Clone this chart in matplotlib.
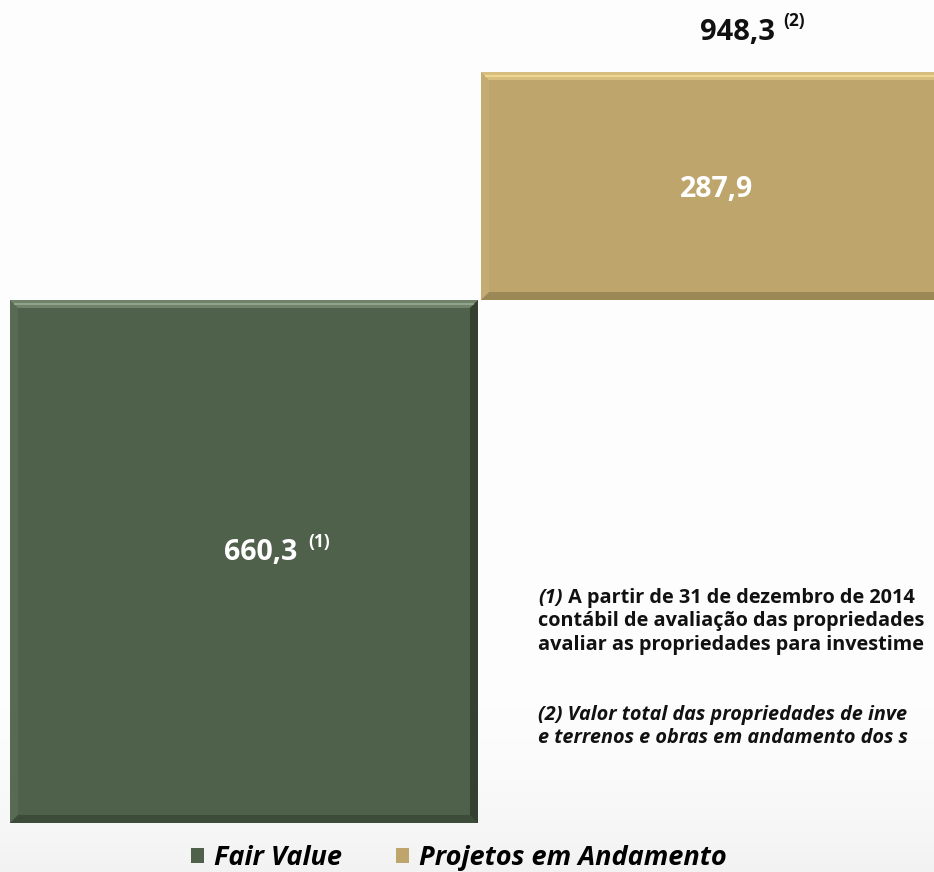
import matplotlib
matplotlib.use("Agg")
import matplotlib.pyplot as plt
import numpy as np
from matplotlib.patches import Patch, Polygon

# Values (R$ milhões)
categories = ["Fair Value", "Projetos em Andamento"]
values = [660.3, 287.9]
total = 948.3
value_labels = ["660,3", "287,9"]
value_notes = ["(1)", ""]
total_label = "948,3"
total_note = "(2)"
colors = ["#50614B", "#BEA56C"]
light = ["#9AAC93", "#F6DE98"]
dark = ["#1A2218", "#5E5030"]

# footnote lines: (italic part, upright part)
notes = [
    ("(1)", " A partir de 31 de dezembro de 2014"),
    ("", "contábil de avaliação das propriedades"),
    ("", "avaliar as propriedades para investime"),
    ("(2) Valor total das propriedades de inve", ""),
    ("e terrenos e obras em andamento dos s", ""),
]
note_y_px = [598, 621.5, 645, 715, 738.5]

plt.rcParams["font.family"] = ["Open Sans", "DejaVu Sans"]

W, H = 934, 872
fig = plt.figure(figsize=(W / 100, H / 100), dpi=100)
fig.patch.set_facecolor("#FDFDFD")
ax = fig.add_axes([0, 0, 1, 1])
ax.set_facecolor("#FDFDFD")

# faint grey shading toward the bottom of the slide
grad = np.linspace(0, 1, 200) ** 2
shade = np.repeat((0.995 - 0.045 * grad).reshape(200, 1, 1), 3, axis=2)
ax.imshow(shade, extent=(0, 1, 0, 0.25), transform=ax.transAxes,
          aspect="auto", origin="upper", zorder=0)
ax.set_xlim(-0.518, 1.465)
ax.set_ylim(-61.9, 1039.1)
ax.axis("off")

bottoms = [0, values[0]]
x = list(range(len(values)))
bars = ax.bar(x, values, bottom=bottoms, width=0.9936, color=colors,
              edgecolor="none", zorder=2)

# bevelled edges derived from each bar's rectangle
px_x = 1 / 471.0
px_y = 1 / 0.792
for i, b in enumerate(bars):
    x0, y0 = b.get_x(), b.get_y()
    x1, y1 = x0 + b.get_width(), y0 + b.get_height()
    dx, dy = 8 * px_x, 8 * px_y
    top = Polygon([(x0, y1), (x1, y1), (x1 - dx, y1 - dy), (x0 + dx, y1 - dy)],
                  closed=True, facecolor=light[i], alpha=0.45, edgecolor="none", zorder=3)
    right = Polygon([(x1, y1), (x1, y0), (x1 - dx, y0 + dy), (x1 - dx, y1 - dy)],
                    closed=True, facecolor=dark[i], alpha=0.5, edgecolor="none", zorder=3)
    bottom = Polygon([(x0, y0), (x1, y0), (x1 - dx, y0 + dy), (x0 + dx, y0 + dy)],
                     closed=True, facecolor=dark[i], alpha=0.35, edgecolor="none", zorder=3)
    left = Polygon([(x0, y0), (x0, y1), (x0 + dx, y1 - dy), (x0 + dx, y0 + dy)],
                   closed=True, facecolor=light[i], alpha=0.12, edgecolor="none", zorder=3)
    for p in (top, right, bottom, left):
        ax.add_patch(p)
    # thin highlight line inside the top bevel
    ax.plot([x0 + dx * 0.5, x1 - dx * 0.5], [y1 - dy * 0.45] * 2, color=light[i],
            lw=1.5, alpha=0.8, solid_capstyle="butt", zorder=3)

# value labels inside the bars
label_dx = [0.035, 0.004]
label_dy = [11, -4]
for i, b in enumerate(bars):
    cx = b.get_x() + b.get_width() / 2 + label_dx[i]
    cy = b.get_y() + b.get_height() / 2 + label_dy[i]
    t = ax.text(cx, cy, value_labels[i], color="white", fontsize=20.5,
                fontweight="bold", ha="center", va="center", zorder=4)
    if value_notes[i]:
        ax.annotate(value_notes[i], xy=(1, 1), xycoords=t, xytext=(8, 4),
                    textcoords="offset points", color="white", fontsize=12.5,
                    fontweight="bold", ha="left", va="top", zorder=4)

# total above the stacked column
tt = ax.text(x[1] + 0.047, total + 50, total_label, color="#111111", fontsize=21,
             fontweight="bold", ha="center", va="center")
ax.annotate(total_note, xy=(1, 1), xycoords=tt, xytext=(6, 4),
            textcoords="offset points", color="#111111", fontsize=12.5,
            fontweight="bold", ha="left", va="top")

# footnotes
xx = -0.518 + 538 * px_x
fs = 14.3
for (ital, upright), yp in zip(notes, note_y_px):
    yy = (823 - yp) * px_y
    if ital and upright:
        h = ax.text(xx, yy, ital, fontsize=fs, fontweight="bold", style="italic",
                    color="#111111", ha="left", va="center")
        ax.annotate(upright, xy=(1, 0.5), xycoords=h, fontsize=fs, fontweight="bold",
                    color="#111111", ha="left", va="center")
    elif ital:
        ax.text(xx, yy, ital, fontsize=fs, fontweight="bold", style="italic",
                color="#111111", ha="left", va="center")
    else:
        ax.text(xx, yy, upright, fontsize=fs, fontweight="bold",
                color="#111111", ha="left", va="center")

# legend
handles = [Patch(facecolor=c, edgecolor="none") for c in colors]
leg = ax.legend(handles, categories, loc="center", bbox_to_anchor=(0.491, 14 / 872),
                ncol=2, frameon=False, handlelength=0.5, handleheight=0.5,
                handletextpad=0.35, columnspacing=2.0,
                prop={"size": 19.5, "weight": "bold", "style": "italic"})

fig.savefig("out.png", dpi=100, facecolor=fig.get_facecolor())
